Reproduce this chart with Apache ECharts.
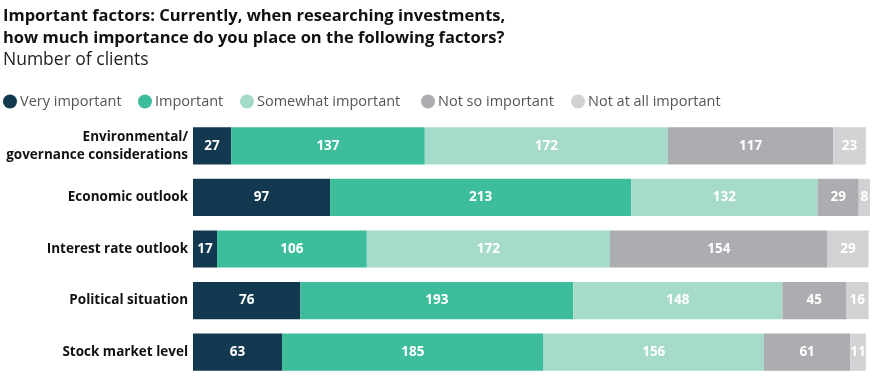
<!DOCTYPE html>
<html><head><meta charset="utf-8">
<script src="https://cdn.jsdelivr.net/npm/echarts@6/dist/echarts.min.js"></script>
<style>html,body{margin:0;padding:0;background:#fff}#c{width:878px;height:388px}</style>
</head><body><div id="c"></div>
<script>
const categories = ["Environmental/\ngovernance considerations", "Economic outlook", "Interest rate outlook", "Political situation", "Stock market level"];
const seriesNames = ["Very important", "Important", "Somewhat important", "Not so important", "Not at all important"];
const veryImportant = [27, 97, 17, 76, 63];
const important = [137, 213, 106, 193, 185];
const somewhatImportant = [172, 132, 172, 148, 156];
const notSoImportant = [117, 29, 154, 45, 61];
const notAtAllImportant = [23, 8, 29, 16, 11];
const colors = ["#12394f", "#3ebd9c", "#a6dbcc", "#acadb0", "#d1d2d4"];
const values = [veryImportant, important, somewhatImportant, notSoImportant, notAtAllImportant];
const legendX = [3, 138, 240, 421, 571];
const FONT = "Open Sans";

const chart = echarts.init(document.getElementById('c'));
chart.setOption({
  animation: false,
  textStyle: { fontFamily: FONT },
  title: [
    { text: "Important factors: Currently, when researching investments,\nhow much importance do you place on the following factors?",
      left: 3, top: 5, padding: 0, textStyle: { fontFamily: FONT, fontSize: 16.5, fontWeight: 'bold', color: '#111', lineHeight: 22 } },
    { text: "Number of clients", left: 3, top: 51, padding: 0, textStyle: { fontFamily: FONT, fontSize: 17.5, fontWeight: 'normal', color: '#222' } }
  ],
  legend: seriesNames.map((n, i) => ({
    data: [n], left: legendX[i], top: 94, padding: 0, icon: 'circle', itemWidth: 14, itemHeight: 14, itemGap: 4,
    textStyle: { fontFamily: FONT, fontSize: 14.5, color: '#555', padding: [0, 0, 0, -2] }
  })),
  grid: { left: 193, right: 8, top: 120, bottom: 10, containLabel: false },
  xAxis: { type: 'value', min: 0, max: 479, show: false },
  yAxis: { type: 'category', data: categories, inverse: true,
    axisLine: { show: false }, axisTick: { show: false },
    axisLabel: { fontFamily: FONT, fontSize: 13.5, fontWeight: 'bold', color: '#111', margin: 5, lineHeight: 18, align: 'right' } },
  series: seriesNames.map((n, i) => ({
    name: n, type: 'bar', stack: 'total', data: values[i], barCategoryGap: '28%',
    itemStyle: { color: colors[i] },
    label: { show: true, position: 'inside', color: '#fff', fontFamily: FONT, fontSize: 13.5, fontWeight: 'bold' }
  }))
});
</script></body></html>
